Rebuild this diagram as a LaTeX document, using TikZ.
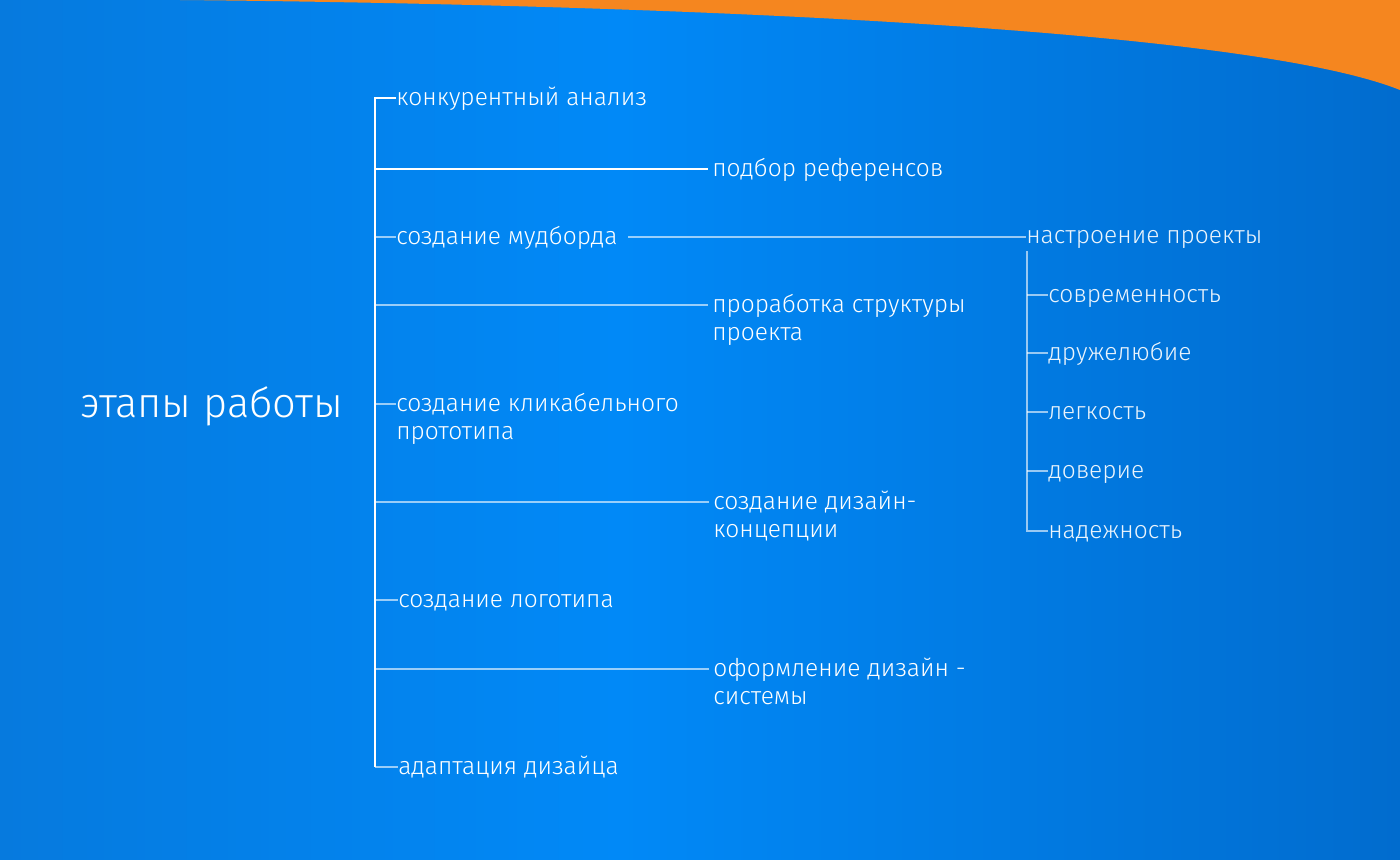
\documentclass[tikz,border=0pt]{standalone}
\usepackage{fontspec}
\setmainfont{Fira Sans Light}
\usepackage{tikz}

\definecolor{bgleft}{RGB}{6,122,222}
\definecolor{bgmid}{RGB}{1,137,247}
\definecolor{bgright}{RGB}{1,108,206}
\definecolor{orangetop}{RGB}{245,134,31}

\tikzset{
  stage/.style={anchor=base west,inner sep=0pt,text=white,align=left,font=\fontsize{18.4}{21}\selectfont},
  mood/.style={stage,text opacity=0.92},
  trunk/.style={draw=white,line width=1pt},
  branch/.style={draw=white,draw opacity=0.6,line width=1pt},
}

\begin{document}
\begin{tikzpicture}[x=0.75pt,y=0.75pt,yscale=-1,xscale=1]
\useasboundingbox (0,0) rectangle (1400,860);

%Shape: Background
\shade [left color=bgleft,right color=bgmid] (0,0) rectangle (620,860);
\shade [left color=bgmid,right color=bgright] (619,0) rectangle (1400,860);
%Shape: Orange Corner
\fill [orangetop] (0,0) -- (180,0) .. controls (700,5) and (1250,30) .. (1400,90) -- (1400,0) -- cycle;

% Text Node
\node [anchor=base west,inner sep=0pt,text=white,font=\fontsize{31.2}{34}\selectfont] (title) at (80,417) {этапы работы};

% Coordinates on the trunk
\coordinate (t1) at (375,98);
\coordinate (t2) at (375,169);
\coordinate (t3) at (375,237);
\coordinate (t4) at (375,305);
\coordinate (t5) at (375,404);
\coordinate (t6) at (375,502);
\coordinate (t7) at (375,600);
\coordinate (t8) at (375,669);
\coordinate (t9) at (375,767);

% Text Node
\node [stage] (n1) at (396,105) {конкурентный анализ};
\node [stage] (n2) at (712,176) {подбор референсов};
\node [stage] (n3) at (396,244) {создание мудборда};
\node [stage] (n4) at (712,340) {проработка структуры\\проекта};
\node [stage] (n5) at (396,439) {создание кликабельного\\прототипа};
\node [stage] (n6) at (713,537) {создание дизайн-\\концепции};
\node [stage] (n7) at (398,607) {создание логотипа};
\node [stage] (n8) at (713,704) {оформление дизайн -\\системы};
\node [stage] (n9) at (398,774) {адаптация дизайца};

%Straight Lines
\draw [trunk] (t1 -| n1.west) -- (t1) -- (t9);
\draw [branch] (t9) -- (t9 -| n9.west);
\draw [trunk] (t2) -- ([xshift=-3]t2 -| n2.west);
\draw [branch] (t3) -- (t3 -| n3.west);
\draw [branch] (t4) -- ([xshift=-3]t4 -| n4.west);
\draw [branch] (t5) -- (t5 -| n5.west);
\draw [branch] (t6) -- ([xshift=-3]t6 -| n6.west);
\draw [branch] (t7) -- (t7 -| n7.west);
\draw [branch] (t8) -- ([xshift=-3]t8 -| n8.west);

% Text Node
\node [mood] (m0) at (1026,243) {настроение проекты};
\node [mood] (m1) at (1048,302) {современность};
\node [mood] (m2) at (1048,360) {дружелюбие};
\node [mood] (m3) at (1048,419) {легкость};
\node [mood] (m4) at (1048,478) {доверие};
\node [mood] (m5) at (1048,538) {надежность};

\coordinate (s0) at (1027,251);
\coordinate (s1) at (1027,295);
\coordinate (s2) at (1027,353);
\coordinate (s3) at (1027,412);
\coordinate (s4) at (1027,471);
\coordinate (s5) at (1027,531);

%Straight Lines
\draw [branch] ([xshift=8]n3.east |- t3) -- (t3 -| m0.west);
\draw [branch] (s0) -- (s5) -- (s5 -| m5.west);
\draw [branch] (s1) -- (s1 -| m1.west);
\draw [branch] (s2) -- (s2 -| m2.west);
\draw [branch] (s3) -- (s3 -| m3.west);
\draw [branch] (s4) -- (s4 -| m4.west);

\end{tikzpicture}
\end{document}
